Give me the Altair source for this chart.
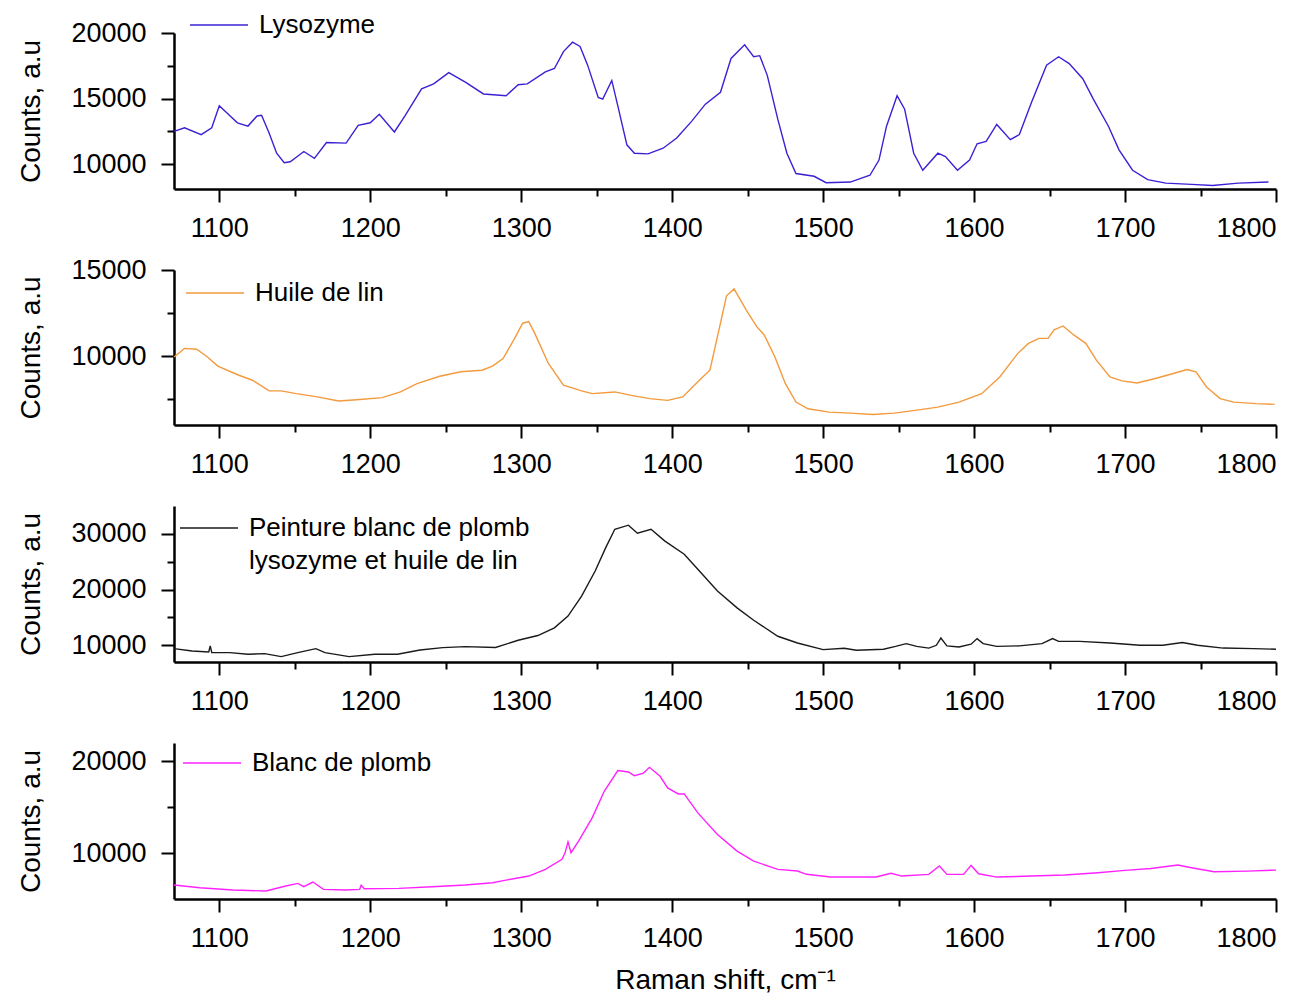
import altair as alt
import pandas as pd

FONT = "Liberation Sans"

# ---- data ----
lys_x = [1070, 1077, 1088, 1095, 1100, 1106, 1112, 1119, 1125, 1128, 1133, 1138, 1143, 1147, 1156,
         1163, 1171, 1184, 1192, 1200, 1206, 1216, 1223, 1234, 1242, 1252, 1263, 1275, 1290, 1298,
         1304, 1316, 1322, 1328, 1334, 1339, 1344, 1351, 1354, 1360, 1364, 1370, 1375, 1384, 1394,
         1403, 1413, 1422, 1432, 1439, 1448, 1454, 1458, 1463, 1470, 1476, 1482, 1494, 1502, 1518,
         1531, 1537, 1542, 1549, 1554, 1560, 1566, 1576, 1581, 1589, 1597, 1602, 1608, 1615, 1624,
         1630, 1638, 1648, 1656, 1663, 1672, 1679, 1689, 1696, 1705, 1715, 1727, 1744, 1758, 1775,
         1795]
lys_y = [12500, 12770, 12250, 12770, 14450, 13800, 13150, 12900, 13670, 13720, 12380, 10830, 10100, 10180, 10960,
         10440, 11650, 11600, 12950, 13150, 13800, 12450, 13670, 15740, 16120, 16980, 16250, 15350, 15220, 16050,
         16120, 17030, 17290, 18580, 19300, 18970, 17550, 15090, 14960, 16380, 14440, 11470, 10830, 10780, 11210,
         11990, 13280, 14570, 15480, 18060, 19100, 18190, 18270, 16770, 13410, 10830, 9280, 9070, 8580, 8630,
         9150, 10310, 12890, 15220, 14190, 10830, 9530, 10830, 10570, 9530, 10310, 11550, 11730, 13020, 11860,
         12250, 14700, 17550, 18190, 17670, 16510, 14960, 12890, 11090, 9530, 8810, 8550, 8450, 8370, 8550,
         8630]

oil_x = [1070, 1077, 1085, 1092, 1099, 1113, 1122, 1133, 1141, 1151, 1165, 1179, 1191, 1208, 1220,
         1231, 1246, 1260, 1274, 1281, 1288, 1295, 1301, 1305, 1309, 1318, 1328, 1340, 1347, 1362,
         1373, 1385, 1397, 1407, 1418, 1425, 1431, 1436, 1441, 1449, 1456, 1461, 1468, 1475, 1482,
         1490, 1504, 1518, 1533, 1547, 1561, 1576, 1590, 1605, 1617, 1629, 1636, 1643, 1649, 1653,
         1659, 1666, 1674, 1681, 1690, 1698, 1708, 1720, 1732, 1741, 1747, 1754, 1763, 1772, 1787,
         1799]
oil_y = [9950, 10450, 10400, 9960, 9420, 8890, 8600, 7980, 7980, 7820, 7630, 7390, 7470, 7590, 7920,
         8400, 8830, 9090, 9180, 9420, 9860, 10930, 11910, 12000, 11320, 9570, 8310, 7980, 7820, 7920,
         7720, 7530, 7430, 7630, 8600, 9180, 11520, 13500, 13900, 12690, 11710, 11230, 9960, 8400, 7330,
         6940, 6750, 6690, 6610, 6690, 6850, 7040, 7330, 7820, 8790, 10160, 10740, 11030, 11030, 11520,
         11750, 11230, 10740, 9770, 8790, 8560, 8440, 8700, 8990, 9220, 9090, 8210, 7530, 7330, 7240,
         7200]

mix_x = [1070, 1082, 1093, 1094, 1095, 1107, 1119, 1130, 1141, 1152, 1164, 1170, 1186, 1203, 1218,
         1233, 1248, 1263, 1283, 1298, 1311, 1322, 1331, 1340, 1349, 1356, 1362, 1371, 1377, 1386,
         1395, 1408, 1417, 1430, 1443, 1454, 1470, 1483, 1500, 1514, 1522, 1540, 1548, 1555, 1562,
         1570, 1575, 1578, 1582, 1590, 1598, 1602, 1606, 1615, 1630, 1645, 1652, 1656, 1670, 1690,
         1710, 1725, 1738, 1748, 1765, 1785, 1800]
mix_y = [9400, 8980, 8800, 9900, 8700, 8680, 8380, 8500, 7960, 8680, 9400, 8680, 7960, 8380, 8380,
         9160, 9580, 9760, 9600, 10900, 11750, 13120, 15230, 18830, 23330, 27530, 30830, 31560, 30120, 30830,
         28740, 26340, 23640, 19730, 16720, 14500, 11620, 10410, 9220, 9460, 9100, 9300, 9800, 10300, 9800,
         9500, 10000, 11300, 9900, 9700, 10200, 11200, 10300, 9800, 9900, 10300, 11200, 10700, 10700, 10400,
         10000, 10000, 10500, 10000, 9500, 9400, 9300]

pb_x = [1070, 1087, 1109, 1131, 1144, 1152, 1156, 1162, 1169, 1184, 1193, 1194, 1196, 1219, 1241,
        1263, 1281, 1289, 1305, 1316, 1327, 1329, 1331, 1333, 1338, 1347, 1355, 1364, 1371, 1375,
        1381, 1385, 1392, 1397, 1404, 1408, 1417, 1430, 1443, 1454, 1470, 1483, 1489, 1505, 1522,
        1535, 1545, 1552, 1570, 1577, 1582, 1593, 1598, 1603, 1615, 1638, 1660, 1682, 1700, 1717,
        1735, 1744, 1759, 1781, 1800]
pb_y = [6520, 6230, 5980, 5870, 6420, 6700, 6340, 6850, 6050, 5980, 6050, 6520, 6120, 6160, 6340,
        6520, 6770, 7030, 7500, 8230, 9320, 10000, 11230, 10040, 11300, 13840, 16740, 18990, 18840, 18440,
        18720, 19350, 18370, 17100, 16450, 16450, 14380, 12030, 10220, 9130, 8230, 8050, 7690, 7390, 7390,
        7400, 7800, 7500, 7680, 8590, 7680, 7680, 8660, 7750, 7390, 7500, 7610, 7860, 8120, 8330,
        8700, 8410, 7970, 8040, 8150]

names = ["Lysozyme", "Huile de lin", "Peinture blanc de plomb|lysozyme et huile de lin", "Blanc de plomb"]
colors = ["#3a22d4", "#f39a3e", "#1a1a1a", "#ff22ff"]

x_ticks = [1100, 1150, 1200, 1250, 1300, 1350, 1400, 1450, 1500, 1550, 1600, 1650, 1700, 1750, 1800]
y_domains = [[8100, 20000], [6000, 15000], [7000, 35000], [5000, 22000]]
y_ticks = [[10000, 12500, 15000, 17500, 20000],
           [7500, 10000, 12500, 15000],
           [10000, 15000, 20000, 25000, 30000],
           [10000, 15000, 20000]]
y_label_step = [5000, 5000, 10000, 10000]

W = 1102
heights = [156, 155, 156, 156]
# legend origin relative to each plot area
legend_pos = [(32, -21), (28, 10), (22, 9), (25, 7)]

series = [(lys_x, lys_y), (oil_x, oil_y), (mix_x, mix_y), (pb_x, pb_y)]

# legend key: a horizontal line about 58 px long drawn with a small symbol box
LEG_PATH = "M-4.5,0H4.5"
LEG_SIZE = 166


def panel(i, last):
    xs, ys = series[i]
    df = pd.DataFrame({"x": xs, "y": ys, "s": names[i]})
    xaxis_kw = dict(
        values=x_ticks, format="d",
        labelExpr="datum.value % 100 === 0 ? datum.label : ''",
        tickSize={"condition": {"test": "datum.value % 100 === 0", "value": 13}, "value": 7},
        labelPadding=13,
    )
    if last:
        xaxis = alt.Axis(title="Raman shift, cm⁻¹", titlePadding=15, **xaxis_kw)
    else:
        xaxis = alt.Axis(title=None, **xaxis_kw)
    step = y_label_step[i]
    yaxis = alt.Axis(
        values=y_ticks[i], format="d", title="Counts, a.u", titlePadding=25,
        labelExpr=f"datum.value % {step} === 0 ? datum.label : ''",
        tickSize={"condition": {"test": f"datum.value % {step} === 0", "value": 13}, "value": 7},
        labelPadding=15,
    )
    lx, ly = legend_pos[i]
    return alt.Chart(df).mark_line(strokeWidth=1.4).encode(
        x=alt.X("x:Q", scale=alt.Scale(domain=[1070, 1800], nice=False, zero=False), axis=xaxis),
        y=alt.Y("y:Q", scale=alt.Scale(domain=y_domains[i], nice=False, zero=False), axis=yaxis),
        color=alt.Color("s:N", scale=alt.Scale(domain=[names[i]], range=[colors[i]]),
                        legend=alt.Legend(orient="none", legendX=lx, legendY=ly, title=None,
                                          symbolType=LEG_PATH, symbolSize=LEG_SIZE, symbolStrokeWidth=1.5,
                                          labelFont=FONT, labelFontSize=26, labelColor="black",
                                          labelOffset=27, labelLimit=800, padding=0,
                                          labelExpr="split(datum.label, '|')")),
    ).properties(width=W, height=heights[i])


chart = alt.vconcat(
    panel(0, False), panel(1, False), panel(2, False), panel(3, True),
    spacing=81, bounds="flush",
).resolve_scale(
    x="independent", y="independent", color="independent"
).resolve_axis(
    x="independent", y="independent"
).resolve_legend(
    color="independent"
).properties(
    padding={"left": 9, "top": 3, "right": 0, "bottom": 0}
).configure(
    style={"guide-label": {"lineHeight": 33}}
).configure_axis(
    domainColor="black", domainWidth=2.5, tickColor="black", tickWidth=2,
    labelFont=FONT, labelFontSize=27, labelColor="black",
    titleFont=FONT, titleFontSize=28, titleFontWeight="normal", titleColor="black",
    grid=False,
).configure_view(stroke="transparent")

chart.save("out.html", embed_options={"renderer": "svg", "actions": False})
